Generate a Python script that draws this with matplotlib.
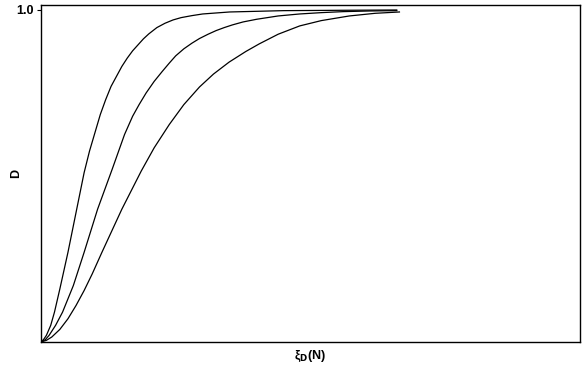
import matplotlib
matplotlib.use("Agg")
import matplotlib.pyplot as plt

# Read-off values (x in arbitrary units of xi_D(N), D from 0 to 1)
x1 = [0, 0.05, 0.1, 0.18, 0.25, 0.35, 0.5, 0.65, 0.8, 0.9, 1.0, 1.1, 1.2, 1.3, 1.4, 1.5, 1.6, 1.7, 1.8, 1.9, 2.0, 2.15, 2.3, 2.45, 2.6, 2.8, 3.0, 3.25, 3.5, 4.0, 4.5, 5.5, 6.6]
d1 = [0, 0.008, 0.02, 0.05, 0.09, 0.16, 0.27, 0.39, 0.51, 0.575, 0.63, 0.685, 0.73, 0.77, 0.80, 0.83, 0.855, 0.877, 0.895, 0.913, 0.928, 0.947, 0.96, 0.97, 0.977, 0.983, 0.988, 0.991, 0.994, 0.996, 0.998, 0.999, 1.0]

x2 = [0, 0.08, 0.15, 0.27, 0.4, 0.6, 0.8, 1.05, 1.32, 1.55, 1.7, 1.82, 1.95, 2.1, 2.25, 2.38, 2.5, 2.65, 2.8, 2.94, 3.1, 3.25, 3.4, 3.55, 3.75, 4.0, 4.4, 4.8, 5.2, 5.6, 6.1, 6.6]
d2 = [0, 0.007, 0.02, 0.05, 0.09, 0.17, 0.27, 0.40, 0.52, 0.625, 0.68, 0.715, 0.75, 0.785, 0.815, 0.84, 0.862, 0.883, 0.9, 0.914, 0.927, 0.938, 0.947, 0.955, 0.964, 0.972, 0.982, 0.988, 0.992, 0.995, 0.997, 0.998]

x3 = [0, 0.1, 0.2, 0.35, 0.5, 0.65, 0.8, 0.95, 1.13, 1.5, 1.86, 2.1, 2.38, 2.65, 2.94, 3.2, 3.49, 3.8, 4.05, 4.4, 4.8, 5.2, 5.72, 6.2, 6.65]
d3 = [0, 0.005, 0.015, 0.038, 0.07, 0.11, 0.155, 0.205, 0.27, 0.40, 0.515, 0.585, 0.655, 0.715, 0.768, 0.807, 0.843, 0.875, 0.898, 0.927, 0.952, 0.968, 0.982, 0.99, 0.994]

fig = plt.figure(figsize=(5.82, 3.72), dpi=100)
ax = fig.add_axes([41/582, 30/372, 539/582, 337/372])

for xs, ds in [(x1, d1), (x2, d2), (x3, d3)]:
    ax.plot(xs, ds, color="black", lw=0.9, solid_joinstyle="round")

ax.set_xlim(0, 10)
ax.set_ylim(0, 1.015)
for s in ax.spines.values():
    s.set_linewidth(1.0)
    s.set_color("black")
ax.set_xticks([])
ax.set_yticks([1.0])
ax.set_yticklabels(["1.0"], fontsize=9, fontweight="bold", family="Liberation Sans")
ax.tick_params(axis="y", direction="out", length=3, width=0.8, pad=2)

ax.set_ylabel("D", fontsize=9, fontweight="bold", family="Liberation Sans")
ax.yaxis.set_label_coords(-0.035, 0.5)
ax.set_xlabel(r"ξ$_\mathbf{D}$(N)", fontsize=9, fontweight="bold", family="Liberation Sans", labelpad=4)

fig.savefig("out.png", dpi=100)
